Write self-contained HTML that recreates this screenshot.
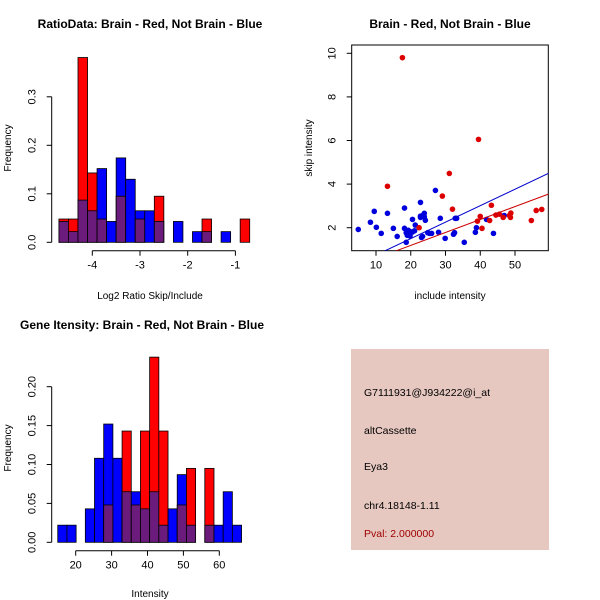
<!DOCTYPE html>
<html><head><meta charset="utf-8"><style>
body{margin:0;background:#fff}
svg{display:block;font-family:"Liberation Sans",sans-serif}
</style></head><body>
<svg id="c" width="600" height="600" xmlns="http://www.w3.org/2000/svg"></svg>
<script>
// ---- data: ratio histogram (breaks -4.7 step 0.2)
const ratioBreakStart = -4.7;
const ratioBreakStep = 0.2;
const ratioRed  = [.048,.048,.381,.143,.048,0,.095,0,.048,0,.095,0,0,0,0,.048,0,0,0,.048];
const ratioBlue = [.043,.022,.087,.065,.152,.043,.174,.130,.065,.065,.043,0,.043,0,.022,.022,0,.022,0,0];
const ratioXTicks = [-4,-3,-2,-1];
const ratioYTicks = [0,0.1,0.2,0.3];
const ratioYLabels = ["0.0","0.1","0.2","0.3"];
// ---- data: intensity histogram
const intBreakStart = 15;
const intBreakStep = 2.56;
const intRed  = [0,0,0,0,0,.048,0,.143,.048,.143,.238,.143,0,.048,.095,0,.095,0,0,0];
const intBlue = [.022,.022,0,.043,.108,.152,.108,.065,.065,.043,.065,.022,.043,.087,.022,0,.022,.022,.065,.022];
const intXTicks = [20,30,40,50,60];
const intYTicks = [0,0.05,0.10,0.15,0.20];
const intYLabels = ["0.00","0.05","0.10","0.15","0.20"];
// ---- data: scatter
const redX = [17.6,39.5,31.1,13.3,29.1,32.0,43.2,40.0,39.2,40.5,42.7,22.4,44.5,45.5,46.6,48.4,48.8,48.7,54.7,56.1,57.7];
const redY = [9.8,6.05,4.49,3.9,3.45,2.85,3.03,2.52,2.3,1.97,2.33,2.0,2.58,2.62,2.47,2.56,2.67,2.47,2.33,2.79,2.84];
const blueX = [4.9,8.4,9.5,10.1,11.5,13.3,15.0,16.1,18.2,18.2,18.7,18.7,19.0,19.3,19.9,20.5,20.5,21.1,21.3,22.8,22.8,22.8,23.1,23.4,23.4,23.9,23.9,24.2,24.9,25.4,26.0,27.1,28.0,28.5,29.9,32.3,32.6,32.8,33.2,35.4,38.6,38.9,41.8,43.8,46.9,19.8];
const blueY = [1.92,2.25,2.75,2.02,1.74,2.66,1.97,1.6,2.9,1.97,1.33,1.77,1.65,1.88,1.82,1.8,2.38,1.86,2.12,3.16,2.53,2.47,1.55,1.6,2.56,2.66,2.5,2.34,1.77,1.74,1.74,3.71,1.79,2.43,1.51,1.7,1.77,2.43,2.43,1.33,1.79,2.0,2.38,1.74,2.56,1.62];
const blueFit = [-0.01, 0.0755]; // intercept, slope
const redFit = [0.0, 0.0594];
const scXTicks = [10,20,30,40,50];
const scYTicks = [2,4,6,8,10];

const svg = document.getElementById('c');
const NS = 'http://www.w3.org/2000/svg';
function mk(tag, attrs, parent){
  const e = document.createElementNS(NS, tag);
  for (const k in attrs) e.setAttribute(k, attrs[k]);
  (parent||svg).appendChild(e);
  return e;
}
function txt(s, x, y, size, opts){
  opts = opts||{};
  const t = mk('text', {x:x, y:y, 'font-size':size, 'text-anchor':opts.anchor||'middle', fill:opts.fill||'#000'});
  if (opts.bold) t.setAttribute('font-weight','bold');
  if (opts.rot) t.setAttribute('transform','rotate(-90 '+x+' '+y+')');
  t.textContent = s;
  return t;
}
const PURPLE = '#6b1b7b';

function hist(cfg){
  const g = mk('g', {});
  
  
  const xs = v => cfg.x0px + (v - cfg.x0) * cfg.xk;
  const ys = v => cfg.y0px - v * cfg.yk;
  for (let i = 0; i < cfg.red.length; i++){
    const a = cfg.start + i*cfg.step, b = a + cfg.step;
    const r = cfg.red[i], bl = cfg.blue[i];
    const hi = Math.max(r, bl), lo = Math.min(r, bl);
    const xa = xs(a), xb = xs(b);
    if (hi > 0){
      const bar = mk('rect', {x:xa, y:ys(hi), width:xb-xa, height:ys(0)-ys(hi), fill: r>bl?'#ff0000':'#0000ff', stroke:'#000', 'stroke-width':0.8}, g);
      
      
    }
    if (lo > 0){
      const ov = mk('rect', {x:xa, y:ys(lo), width:xb-xa, height:ys(0)-ys(lo), fill:PURPLE, stroke:'#000', 'stroke-width':0.8}, g);
      
      
    }
  }
  const xt = cfg.xTicks;
  mk('line', {x1:xs(xt[0]), x2:xs(xt[xt.length-1]), y1:cfg.xAxisY, y2:cfg.xAxisY, stroke:'#000'}, g);
  xt.forEach(v => {
    mk('line', {x1:xs(v), x2:xs(v), y1:cfg.xAxisY, y2:cfg.xAxisY+5, stroke:'#000'}, g);
    txt(String(v), xs(v), cfg.xAxisY+18, 11);
  });
  const yt = cfg.yTicks;
  mk('line', {x1:cfg.yAxisX, x2:cfg.yAxisX, y1:ys(yt[0]), y2:ys(yt[yt.length-1]), stroke:'#000'}, g);
  yt.forEach((v, i) => {
    mk('line', {x1:cfg.yAxisX-5, x2:cfg.yAxisX, y1:ys(v), y2:ys(v), stroke:'#000'}, g);
    txt(cfg.yLabels[i], cfg.yAxisX-16, ys(v), 11, {rot:true});
  });
}

hist({name:'ratio-histogram', red:ratioRed, blue:ratioBlue, start:ratioBreakStart, step:ratioBreakStep,
  x0:-4, x0px:92.3, xk:47.7, y0px:242.3, yk:485, xTicks:ratioXTicks, yTicks:ratioYTicks, yLabels:ratioYLabels,
  xAxisY:250.7, yAxisX:51.7});
txt('RatioData: Brain - Red, Not Brain - Blue', 150, 28, 12, {bold:true});
txt('Log2 Ratio Skip/Include', 150, 299, 10);
txt('Frequency', 11, 148, 10, {rot:true});

hist({name:'intensity-histogram', red:intRed, blue:intBlue, start:intBreakStart, step:intBreakStep,
  x0:20, x0px:75.7, xk:3.59, y0px:542.3, yk:778, xTicks:intXTicks, yTicks:intYTicks, yLabels:intYLabels,
  xAxisY:550.7, yAxisX:51.7});
txt('Gene Itensity: Brain - Red, Not Brain - Blue', 142, 329, 12, {bold:true});
txt('Intensity', 150, 597, 10);
txt('Frequency', 11, 448, 10, {rot:true});

(function(){
  const g = mk('g', {});
  
  
  const L=351.7, R=548.3, T=45, B=250.7;
  const xs = v => 376 + (v-10)*3.475;
  const ys = v => 227.7 - (v-2)*21.8;
  const clip = mk('clipPath', {id:'scclip'}, g);
  mk('rect', {x:L, y:T, width:R-L, height:B-T}, clip);
  const box = mk('rect', {x:L, y:T, width:R-L, height:B-T, fill:'none', stroke:'#000'}, g);
  
  
  const cg = mk('g', {'clip-path':'url(#scclip)'}, g);
  blueX.forEach((x,i) => {
    const p = mk('circle', {cx:xs(x), cy:ys(blueY[i]), r:2.8, fill:'#0000dd'}, cg);
    
    
  });
  redX.forEach((x,i) => {
    const p = mk('circle', {cx:xs(x), cy:ys(redY[i]), r:2.8, fill:'#dd0000'}, cg);
    
    
  });
  const x1 = 3, x2 = 60;
  const bl = mk('line', {x1:xs(x1), y1:ys(blueFit[0]+blueFit[1]*x1), x2:xs(x2), y2:ys(blueFit[0]+blueFit[1]*x2), stroke:'#0000cc'}, cg);
  
  
  const rl = mk('line', {x1:xs(x1), y1:ys(redFit[0]+redFit[1]*x1), x2:xs(x2), y2:ys(redFit[0]+redFit[1]*x2), stroke:'#cc0000'}, cg);
  
  
  scXTicks.forEach(v => {
    mk('line', {x1:xs(v), x2:xs(v), y1:B, y2:B+5, stroke:'#000'}, g);
    txt(String(v), xs(v), B+18, 11);
  });
  scYTicks.forEach(v => {
    mk('line', {x1:L-5, x2:L, y1:ys(v), y2:ys(v), stroke:'#000'}, g);
    txt(String(v), L-16, ys(v), 11, {rot:true});
  });
})();
txt('Brain - Red, Not Brain - Blue', 450, 28, 12, {bold:true});
txt('include intensity', 450, 299, 10);
txt('skip intensity', 312, 148, 10, {rot:true});

const panel = mk('rect', {x:351, y:349, width:198, height:201, fill:'#e6c8c0'});


[['G7111931@J934222@i_at',396,'probe-id'],['altCassette',434,'event-type'],['Eya3',470,'gene-name'],['chr4.18148-1.11',509,'location']].forEach(a => {
  txt(a[0], 364, a[1], 10.5, {anchor:'start'});
});
txt('Pval: 2.000000', 364, 537, 10.5, {anchor:'start', fill:'#a00000'});
</script>
</body></html>
